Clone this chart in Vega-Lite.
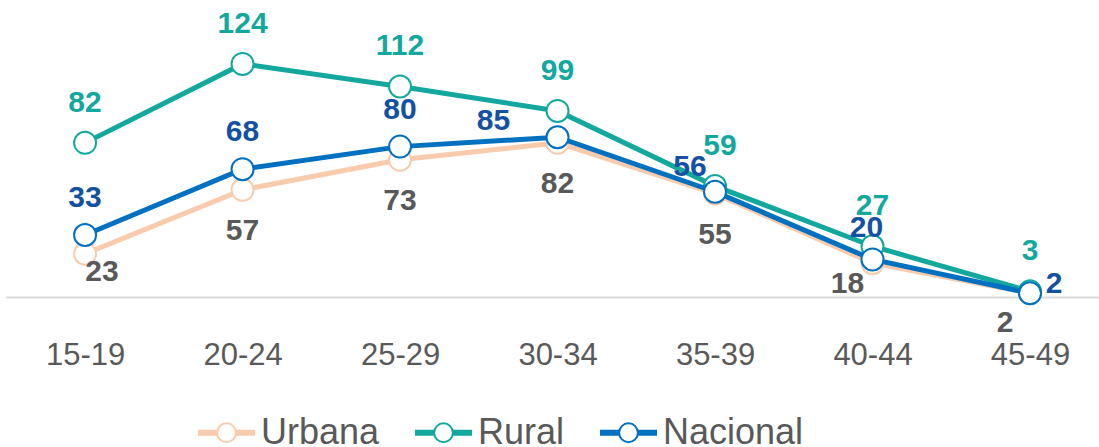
{
  "$schema": "https://vega.github.io/schema/vega-lite/v6.json",
  "width": 1093,
  "height": 297,
  "autosize": {"type": "none"},
  "padding": {"left": 6, "top": 0, "right": 0, "bottom": 150},
  "background": "white",
  "config": {"view": {"stroke": null}, "font": "Liberation Sans"},
  "data": {
    "values": [
      {"edad": "15-19", "serie": "Urbana", "valor": 23},
      {"edad": "20-24", "serie": "Urbana", "valor": 57},
      {"edad": "25-29", "serie": "Urbana", "valor": 73},
      {"edad": "30-34", "serie": "Urbana", "valor": 82},
      {"edad": "35-39", "serie": "Urbana", "valor": 55},
      {"edad": "40-44", "serie": "Urbana", "valor": 18},
      {"edad": "45-49", "serie": "Urbana", "valor": 2},
      {"edad": "15-19", "serie": "Rural", "valor": 82},
      {"edad": "20-24", "serie": "Rural", "valor": 124},
      {"edad": "25-29", "serie": "Rural", "valor": 112},
      {"edad": "30-34", "serie": "Rural", "valor": 99},
      {"edad": "35-39", "serie": "Rural", "valor": 59},
      {"edad": "40-44", "serie": "Rural", "valor": 27},
      {"edad": "45-49", "serie": "Rural", "valor": 3},
      {"edad": "15-19", "serie": "Nacional", "valor": 33},
      {"edad": "20-24", "serie": "Nacional", "valor": 68},
      {"edad": "25-29", "serie": "Nacional", "valor": 80},
      {"edad": "30-34", "serie": "Nacional", "valor": 85},
      {"edad": "35-39", "serie": "Nacional", "valor": 56},
      {"edad": "40-44", "serie": "Nacional", "valor": 20},
      {"edad": "45-49", "serie": "Nacional", "valor": 2}
    ]
  },
  "encoding": {
    "x": {
      "field": "edad",
      "type": "ordinal",
      "scale": {"type": "point", "padding": 0.47, "align": 0.534},
      "axis": {
        "title": null,
        "ticks": false,
        "domainColor": "#d9d9d9",
        "domainWidth": 2,
        "labelFontSize": 31,
        "labelColor": "#595959",
        "labelFont": "Liberation Sans",
        "labelPadding": 43,
        "labelAngle": 0,
        "grid": false
      }
    },
    "y": {
      "field": "valor",
      "type": "quantitative",
      "scale": {"domain": [0, 158]},
      "axis": null
    }
  },
  "layer": [
    {
      "transform": [{"filter": "datum.serie == 'Urbana'"}],
      "mark": {"type": "line", "strokeWidth": 5},
      "encoding": {
        "color": {
          "field": "serie",
          "type": "nominal",
          "scale": {"domain": ["Urbana", "Rural", "Nacional"], "range": ["#F8CBAD", "#13A89E", "#0070C0"]},
          "legend": {
            "title": null,
            "orient": "none",
            "direction": "horizontal",
            "legendX": 191,
            "legendY": 403,
            "labelFontSize": 36,
            "labelColor": "#595959",
            "labelFont": "Liberation Sans",
            "labelOffset": 5,
            "labelLimit": 300,
            "columnPadding": 31,
            "symbolSize": 3249,
            "symbolType": "M-1,-0.07L-0.33,-0.07M-1,0L-0.33,0M-1,0.07L-0.33,0.07M0.33,-0.07L1,-0.07M0.33,0L1,0M0.33,0.07L1,0.07M-0.33,0A0.33,0.33,0,1,1,0.33,0A0.33,0.33,0,1,1,-0.33,0Z",
            "symbolStrokeWidth": 2,
            "symbolFillColor": "white",
            "symbolOpacity": 1
          }
        }
      }
    },
    {
      "transform": [{"filter": "datum.serie == 'Urbana'"}],
      "mark": {"type": "point", "shape": "circle", "filled": false, "fill": "white", "fillOpacity": 1, "opacity": 1, "size": 484, "strokeWidth": 2},
      "encoding": {"color": {"field": "serie", "type": "nominal"}}
    },
    {
      "transform": [{"filter": "datum.serie == 'Rural'"}],
      "mark": {"type": "line", "strokeWidth": 5},
      "encoding": {"color": {"field": "serie", "type": "nominal"}}
    },
    {
      "transform": [{"filter": "datum.serie == 'Rural'"}],
      "mark": {"type": "point", "shape": "circle", "filled": false, "fill": "white", "fillOpacity": 1, "opacity": 1, "size": 484, "strokeWidth": 2},
      "encoding": {"color": {"field": "serie", "type": "nominal"}}
    },
    {
      "transform": [{"filter": "datum.serie == 'Nacional'"}],
      "mark": {"type": "line", "strokeWidth": 5},
      "encoding": {"color": {"field": "serie", "type": "nominal"}}
    },
    {
      "transform": [{"filter": "datum.serie == 'Nacional'"}],
      "mark": {"type": "point", "shape": "circle", "filled": false, "fill": "white", "fillOpacity": 1, "opacity": 1, "size": 484, "strokeWidth": 2},
      "encoding": {"color": {"field": "serie", "type": "nominal"}}
    },
    {
      "transform": [{"filter": "datum.serie == 'Rural' && datum.edad != '35-39'"}],
      "mark": {"type": "text", "fontSize": 30, "fontWeight": "bold", "font": "Liberation Sans", "dy": -40, "color": "#13A89E"},
      "encoding": {"text": {"field": "valor", "type": "quantitative"}}
    },
    {
      "transform": [{"filter": "datum.serie == 'Rural' && datum.edad == '35-39'"}],
      "mark": {"type": "text", "fontSize": 30, "fontWeight": "bold", "font": "Liberation Sans", "dx": 5, "dy": -40, "color": "#13A89E"},
      "encoding": {"text": {"field": "valor", "type": "quantitative"}}
    },
    {
      "transform": [{"filter": "datum.serie == 'Nacional' && indexof(['15-19','20-24','25-29'], datum.edad) >= 0"}],
      "mark": {"type": "text", "fontSize": 30, "fontWeight": "bold", "font": "Liberation Sans", "dy": -37, "color": "#1451A3"},
      "encoding": {"text": {"field": "valor", "type": "quantitative"}}
    },
    {
      "transform": [{"filter": "datum.serie == 'Nacional' && datum.edad == '30-34'"}],
      "mark": {"type": "text", "fontSize": 30, "fontWeight": "bold", "font": "Liberation Sans", "dx": -64, "dy": -16, "color": "#1451A3"},
      "encoding": {"text": {"field": "valor", "type": "quantitative"}}
    },
    {
      "transform": [{"filter": "datum.serie == 'Nacional' && datum.edad == '35-39'"}],
      "mark": {"type": "text", "fontSize": 30, "fontWeight": "bold", "font": "Liberation Sans", "dx": -25, "dy": -25, "color": "#1451A3"},
      "encoding": {"text": {"field": "valor", "type": "quantitative"}}
    },
    {
      "transform": [{"filter": "datum.serie == 'Nacional' && datum.edad == '40-44'"}],
      "mark": {"type": "text", "fontSize": 30, "fontWeight": "bold", "font": "Liberation Sans", "dx": -6, "dy": -31, "color": "#1451A3"},
      "encoding": {"text": {"field": "valor", "type": "quantitative"}}
    },
    {
      "transform": [{"filter": "datum.serie == 'Nacional' && datum.edad == '45-49'"}],
      "mark": {"type": "text", "fontSize": 30, "fontWeight": "bold", "font": "Liberation Sans", "dx": 24, "dy": -9, "color": "#1451A3"},
      "encoding": {"text": {"field": "valor", "type": "quantitative"}}
    },
    {
      "transform": [{"filter": "datum.serie == 'Urbana' && indexof(['20-24','25-29','30-34','35-39'], datum.edad) >= 0"}],
      "mark": {"type": "text", "fontSize": 30, "fontWeight": "bold", "font": "Liberation Sans", "dy": 41, "color": "#595959"},
      "encoding": {"text": {"field": "valor", "type": "quantitative"}}
    },
    {
      "transform": [{"filter": "datum.serie == 'Urbana' && datum.edad == '15-19'"}],
      "mark": {"type": "text", "fontSize": 30, "fontWeight": "bold", "font": "Liberation Sans", "dx": 17, "dy": 18, "color": "#595959"},
      "encoding": {"text": {"field": "valor", "type": "quantitative"}}
    },
    {
      "transform": [{"filter": "datum.serie == 'Urbana' && datum.edad == '40-44'"}],
      "mark": {"type": "text", "fontSize": 30, "fontWeight": "bold", "font": "Liberation Sans", "dx": -25, "dy": 21, "color": "#595959"},
      "encoding": {"text": {"field": "valor", "type": "quantitative"}}
    },
    {
      "transform": [{"filter": "datum.serie == 'Urbana' && datum.edad == '45-49'"}],
      "mark": {"type": "text", "fontSize": 30, "fontWeight": "bold", "font": "Liberation Sans", "dx": -25, "dy": 30, "color": "#595959"},
      "encoding": {"text": {"field": "valor", "type": "quantitative"}}
    }
  ]
}
